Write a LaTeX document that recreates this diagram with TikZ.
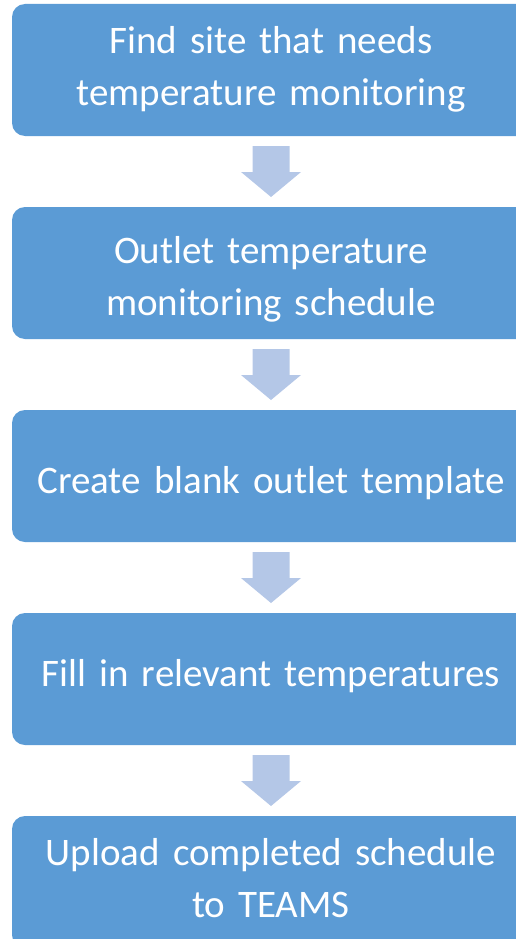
\documentclass[tikz,border=0pt]{standalone}
\usepackage{fontspec}
\setmainfont{Carlito}
\usetikzlibrary{calc,positioning}
\definecolor{stepblue}{HTML}{5B9BD5}
\definecolor{arrowblue}{HTML}{B4C7E7}
\newcommand{\StepText}[2]{\raisebox{#1}[0pt][0pt]{\parbox[t]{500pt}{\centering #2}}}

\begin{document}
\begin{tikzpicture}[x=1pt,y=-1pt]
    \tikzset{StepStyle/.style = {rectangle,
        rounded corners = 13pt,
        fill  = stepblue,
        text  = white,
        minimum width = 518pt, minimum height = 132pt,
        text width = 500pt, align = center, inner sep = 0pt,
        font = \fontsize{39}{52}\selectfont},
      ArrowStyle/.style = {fill = arrowblue}}
    \useasboundingbox (0,0) rectangle (516,939);
    \clip (0,0) rectangle (516,939);

    \node[StepStyle] (S1) at (271,70) {\StepText{16.7pt}{Find site that needs\\temperature monitoring}};
    \node[StepStyle] (S2) at (271,273) {\StepText{10pt}{Outlet temperature\\monitoring schedule}};
    \node[StepStyle] (S3) at (271,476) {\StepText{-17pt}{Create blank outlet template}};
    \node[StepStyle] (S4) at (271,679) {\StepText{-7pt}{Fill in relevant temperatures}};
    \node[StepStyle] (S5) at (271,882) {\StepText{17pt}{Upload completed schedule\\to TEAMS}};

    \foreach \a/\b in {S1/S2,S2/S3,S3/S4,S4/S5}{
      \coordinate (M) at ($(\a.south)!0.5!(\b.north)$);
      \fill[ArrowStyle] ($(M)+(-18.5,-25.5)$) -- ($(M)+(18.5,-25.5)$) -- ($(M)+(18.5,0.5)$)
        -- ($(M)+(30,0.5)$) -- ($(M)+(0,25.5)$) -- ($(M)+(-30,0.5)$) -- ($(M)+(-18.5,0.5)$) -- cycle;
    }
  \end{tikzpicture}
\end{document}
